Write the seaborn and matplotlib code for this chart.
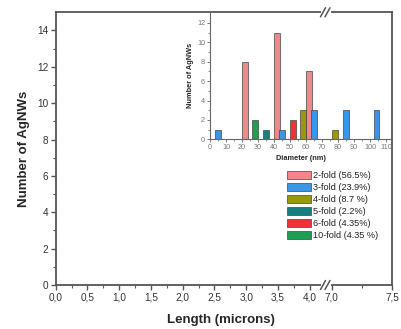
import numpy as np
import pandas as pd
import matplotlib
matplotlib.use("Agg")
import matplotlib.pyplot as plt
from matplotlib.lines import Line2D
from matplotlib.patches import Rectangle
import seaborn as sns

# ---------------- data ----------------
fold_names = ["2-fold (56.5%)", "3-fold (23.9%)", "4-fold (8.7 %)",
              "5-fold (2.2%)", "6-fold (4.35%)", "10-fold (4.35 %)"]
fold_colors = ["#F2868A", "#3B97E6", "#999910", "#168080", "#EE3535", "#1E9E52"]

d2_diam = [22, 42, 62];           d2_count = [8, 11, 7]
d3_diam = [5, 45, 65, 85, 104];   d3_count = [1, 1, 3, 3, 3]
d4_diam = [58, 78];               d4_count = [3, 1]
d5_diam = [35];                   d5_count = [1]
d6_diam = [52];                   d6_count = [2]
d10_diam = [28];                  d10_count = [2]

main_left_ticks = [0.0, 0.5, 1.0, 1.5, 2.0, 2.5, 3.0, 3.5, 4.0]
main_left_labels = ["0,0", "0,5", "1,0", "1,5", "2,0", "2,5", "3,0", "3,5", "4,0"]
main_right_ticks = [7.0, 7.5]
main_right_labels = ["7,0", "7,5"]
main_y_ticks = [0, 2, 4, 6, 8, 10, 12, 14]
inset_x_ticks = [0, 10, 20, 30, 40, 50, 60, 70, 80, 90, 100, 110]
inset_y_ticks = [0, 2, 4, 6, 8, 10, 12]

rows = []
for name, ds, cs in zip(fold_names,
                        [d2_diam, d3_diam, d4_diam, d5_diam, d6_diam, d10_diam],
                        [d2_count, d3_count, d4_count, d5_count, d6_count, d10_count]):
    for d, c in zip(ds, cs):
        rows.append({"Diameter": d, "Count": c, "Fold": name})
df = pd.DataFrame(rows)

# ---------------- style ----------------
sns.set_style("ticks")
plt.rcParams["font.family"] = ["Liberation Sans", "DejaVu Sans"]
spine_c = "#555555"
plt.rcParams["axes.edgecolor"] = spine_c
plt.rcParams["xtick.color"] = spine_c
plt.rcParams["ytick.color"] = spine_c

W, H = 401, 329
fig = plt.figure(figsize=(W / 100, H / 100), dpi=100)

def fx(px):
    return px / W

def fy(py):
    return 1 - py / H

bot, top = 285.0, 12.3
xl, xb, xr = 55.7, 325.5, 392.0
ax1 = fig.add_axes([fx(xl), fy(bot), fx(xb) - fx(xl), fy(top) - fy(bot)])
ax2 = fig.add_axes([fx(xb), fy(bot), fx(xr) - fx(xb), fy(top) - fy(bot)], sharey=ax1)

for ax in (ax1, ax2):
    ax.set_facecolor("none")
    for s in ax.spines.values():
        s.set_linewidth(1.3)
        s.set_color(spine_c)
ax1.spines["right"].set_visible(False)
ax2.spines["left"].set_visible(False)

ax1.set_xlim(0, 4.25)
ax2.set_xlim(6.95, 7.5)
ax1.set_ylim(0, 15)

ax1.set_xticks(main_left_ticks)
ax1.set_xticklabels(main_left_labels)
ax1.set_xticks(np.arange(0.25, 4.25, 0.5), minor=True)
ax2.set_xticks(main_right_ticks)
ax2.set_xticklabels(main_right_labels)
ax2.set_xticks([7.25], minor=True)
ax1.set_yticks(main_y_ticks)
ax1.set_yticks(np.arange(1, 15, 2), minor=True)
ax2.tick_params(axis="y", which="both", left=False, labelleft=False)

for ax in (ax1, ax2):
    ax.tick_params(axis="both", which="major", direction="out", length=3.5, width=1.0,
                   labelsize=7.2, labelcolor="#333333", pad=2)
    ax.tick_params(axis="both", which="minor", direction="out", length=2, width=0.8)

ax1.set_ylabel("Number of AgNWs", fontsize=9.5, fontweight="bold", labelpad=5)
fig.text(fx(221), fy(320), "Length (microns)", fontsize=9.5, fontweight="bold",
         ha="center", va="center")

# break marks
for yb in (top, bot):
    fig.patches.append(Rectangle((fx(320.5), fy(yb) - 0.006), fx(10), 0.012,
                                 transform=fig.transFigure, facecolor="white",
                                 edgecolor="none", zorder=5))
    for x0 in (323.0, 327.5):
        fig.lines.append(Line2D([fx(x0 - 2.5), fx(x0 + 2.5)], [fy(yb + 4.5), fy(yb - 4.5)],
                                transform=fig.transFigure, color=spine_c, lw=1.1, zorder=6))

# ---------------- inset ----------------
ibot, itop, il, ir = 139.3, 12.3, 210.0, 392.0
axi = fig.add_axes([fx(il), fy(ibot), fx(ir) - fx(il), fy(itop) - fy(ibot)])
axi.set_facecolor("none")

uniq = np.sort(df["Diameter"].unique())
min_gap = np.min(np.diff(uniq))
bar_w = 3.5
sns.barplot(data=df, x="Diameter", y="Count", hue="Fold", hue_order=fold_names,
            palette=fold_colors, native_scale=True, dodge=False, errorbar=None,
            saturation=1, width=bar_w / min_gap, edgecolor="#444444",
            linewidth=0.5, ax=axi)

handles, labels = axi.get_legend_handles_labels()
if axi.get_legend() is not None:
    axi.get_legend().remove()

axi.set_xlim(0, 113.7)
axi.set_ylim(0, 13.1)
axi.set_xticks(inset_x_ticks)
axi.set_yticks(inset_y_ticks)
axi.set_yticks(np.arange(1, 13, 2), minor=True)
axi.set_xticks(np.arange(5, 115, 10), minor=True)
for s in ("top", "right"):
    axi.spines[s].set_visible(False)
for s in ("left", "bottom"):
    axi.spines[s].set_linewidth(0.8)
    axi.spines[s].set_color("#666666")
axi.tick_params(axis="both", which="major", direction="out", length=2, width=0.6,
                labelsize=5.2, labelcolor="#777777", pad=1.5, color="#666666")
axi.tick_params(axis="both", which="minor", direction="out", length=1.2, width=0.5,
                color="#666666")
axi.set_xlabel("Diameter (nm)", fontsize=5.3, fontweight="bold", labelpad=3)
axi.set_ylabel("Number of AgNWs", fontsize=5.3, fontweight="bold", labelpad=2)

leg = fig.legend(handles, labels, loc="upper left",
                 bbox_to_anchor=(fx(287), fy(171)), bbox_transform=fig.transFigure,
                 frameon=False, fontsize=6.6, borderpad=0, borderaxespad=0,
                 handlelength=2.6, handleheight=0.95, handletextpad=0.25,
                 labelspacing=0.32)
for t in leg.get_texts():
    t.set_color("#222222")

fig.savefig("out.png", dpi=100)
